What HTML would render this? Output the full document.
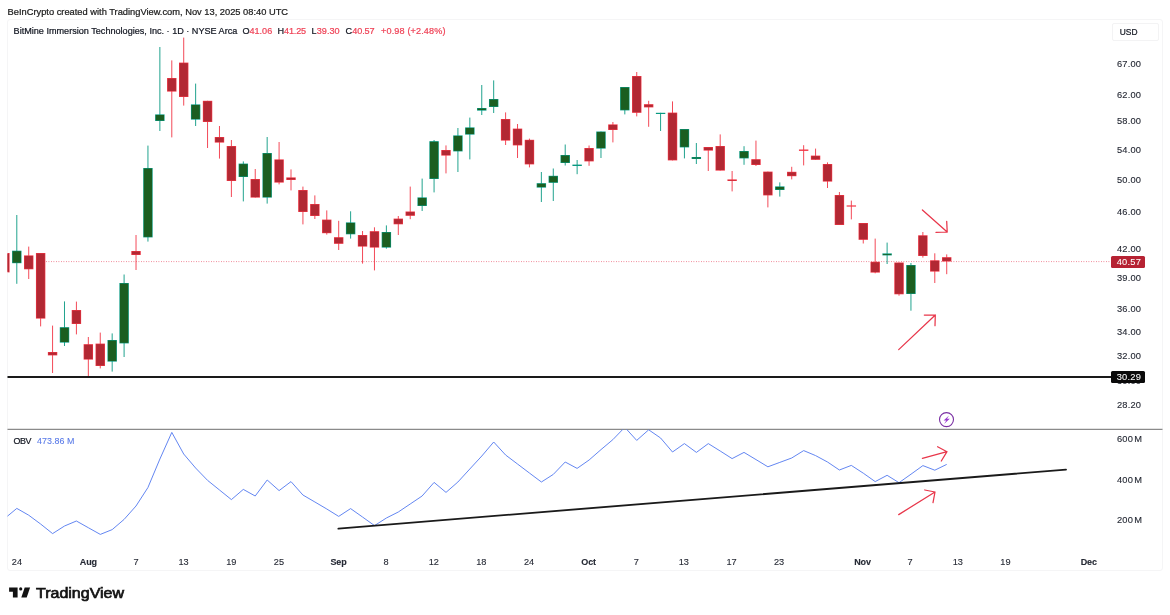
<!DOCTYPE html>
<html lang="en"><head><meta charset="utf-8"><title>BMNR chart</title>
<style>
html,body{margin:0;padding:0;background:#fff;}
body{width:1170px;height:615px;position:relative;overflow:hidden;font-family:"Liberation Sans",Arial,sans-serif;color:#131722;}
.t{position:absolute;white-space:nowrap;color:#131722;-webkit-text-stroke:0.22px currentColor;}
.t.ax{color:#262a35;-webkit-text-stroke:0.12px currentColor;}
.v{color:#ef4458;}
#frame{position:absolute;left:6.8px;top:19.4px;width:1156px;height:551.4px;border:1px solid #f5f5f6;border-radius:3px;box-sizing:border-box;}
#usdbox{position:absolute;left:1112.2px;top:23px;width:47.3px;height:17.6px;border:1px solid #f3f3f4;border-radius:2px;box-sizing:border-box;}
.tag{position:absolute;left:1110.7px;width:34px;height:11.5px;border-radius:1.5px;}
svg{position:absolute;left:0;top:0;}
</style></head>
<body>
<div class="t" style="left:7.60px;top:5.58px;font-size:9.3px;line-height:12px;color:#1a1a1a;">BeInCrypto created with TradingView.com, Nov 13, 2025 08:40 UTC</div>
<div id="frame"></div>
<svg width="1170" height="615" viewBox="0 0 1170 615">
<defs><clipPath id="cp"><rect x="7.5" y="20" width="1103" height="409"/></clipPath>
<clipPath id="cp2"><rect x="7.5" y="429.6" width="1103" height="120"/></clipPath></defs>
<line x1="46" y1="261.6" x2="1111" y2="261.6" stroke="#e84c62" stroke-width="0.8" stroke-dasharray="0.8 1.7"/>
<g clip-path="url(#cp)" shape-rendering="geometricPrecision">
<line x1="16.80" y1="215.0" x2="16.80" y2="283.8" stroke="#089981" stroke-width="0.9"/>
<line x1="28.72" y1="246.6" x2="28.72" y2="279.0" stroke="#f23645" stroke-width="0.9"/>
<line x1="40.64" y1="253.0" x2="40.64" y2="326.4" stroke="#f23645" stroke-width="0.9"/>
<line x1="52.57" y1="325.6" x2="52.57" y2="373.0" stroke="#f23645" stroke-width="0.9"/>
<line x1="64.49" y1="301.4" x2="64.49" y2="346.0" stroke="#089981" stroke-width="0.9"/>
<line x1="76.41" y1="301.6" x2="76.41" y2="334.4" stroke="#f23645" stroke-width="0.9"/>
<line x1="88.33" y1="337.0" x2="88.33" y2="376.0" stroke="#f23645" stroke-width="0.9"/>
<line x1="100.25" y1="332.6" x2="100.25" y2="368.4" stroke="#f23645" stroke-width="0.9"/>
<line x1="112.18" y1="333.4" x2="112.18" y2="371.6" stroke="#089981" stroke-width="0.9"/>
<line x1="124.10" y1="274.5" x2="124.10" y2="357.0" stroke="#089981" stroke-width="0.9"/>
<line x1="136.02" y1="235.0" x2="136.02" y2="270.0" stroke="#f23645" stroke-width="0.9"/>
<line x1="147.94" y1="145.6" x2="147.94" y2="241.6" stroke="#089981" stroke-width="0.9"/>
<line x1="159.86" y1="47.0" x2="159.86" y2="131.0" stroke="#089981" stroke-width="0.9"/>
<line x1="171.79" y1="60.4" x2="171.79" y2="137.4" stroke="#f23645" stroke-width="0.9"/>
<line x1="183.71" y1="37.6" x2="183.71" y2="105.6" stroke="#f23645" stroke-width="0.9"/>
<line x1="195.63" y1="83.6" x2="195.63" y2="126.0" stroke="#089981" stroke-width="0.9"/>
<line x1="207.55" y1="100.8" x2="207.55" y2="148.0" stroke="#f23645" stroke-width="0.9"/>
<line x1="219.47" y1="126.0" x2="219.47" y2="158.6" stroke="#f23645" stroke-width="0.9"/>
<line x1="231.40" y1="140.0" x2="231.40" y2="197.0" stroke="#f23645" stroke-width="0.9"/>
<line x1="243.32" y1="161.4" x2="243.32" y2="201.4" stroke="#089981" stroke-width="0.9"/>
<line x1="255.24" y1="169.0" x2="255.24" y2="197.6" stroke="#f23645" stroke-width="0.9"/>
<line x1="267.16" y1="137.0" x2="267.16" y2="203.6" stroke="#089981" stroke-width="0.9"/>
<line x1="279.08" y1="142.0" x2="279.08" y2="184.4" stroke="#f23645" stroke-width="0.9"/>
<line x1="291.01" y1="169.4" x2="291.01" y2="190.4" stroke="#f23645" stroke-width="0.9"/>
<line x1="302.93" y1="186.6" x2="302.93" y2="224.4" stroke="#f23645" stroke-width="0.9"/>
<line x1="314.85" y1="195.4" x2="314.85" y2="219.0" stroke="#f23645" stroke-width="0.9"/>
<line x1="326.77" y1="210.4" x2="326.77" y2="234.6" stroke="#f23645" stroke-width="0.9"/>
<line x1="338.69" y1="220.8" x2="338.69" y2="250.0" stroke="#f23645" stroke-width="0.9"/>
<line x1="350.62" y1="211.3" x2="350.62" y2="238.6" stroke="#089981" stroke-width="0.9"/>
<line x1="362.54" y1="231.0" x2="362.54" y2="263.6" stroke="#f23645" stroke-width="0.9"/>
<line x1="374.46" y1="227.3" x2="374.46" y2="270.4" stroke="#f23645" stroke-width="0.9"/>
<line x1="386.38" y1="225.4" x2="386.38" y2="248.7" stroke="#089981" stroke-width="0.9"/>
<line x1="398.30" y1="216.0" x2="398.30" y2="235.0" stroke="#f23645" stroke-width="0.9"/>
<line x1="410.23" y1="186.6" x2="410.23" y2="219.2" stroke="#f23645" stroke-width="0.9"/>
<line x1="422.15" y1="178.6" x2="422.15" y2="211.0" stroke="#089981" stroke-width="0.9"/>
<line x1="434.07" y1="140.0" x2="434.07" y2="192.4" stroke="#089981" stroke-width="0.9"/>
<line x1="445.99" y1="145.4" x2="445.99" y2="173.4" stroke="#f23645" stroke-width="0.9"/>
<line x1="457.91" y1="128.0" x2="457.91" y2="172.0" stroke="#089981" stroke-width="0.9"/>
<line x1="469.84" y1="117.6" x2="469.84" y2="159.4" stroke="#089981" stroke-width="0.9"/>
<line x1="481.76" y1="85.0" x2="481.76" y2="115.0" stroke="#089981" stroke-width="0.9"/>
<line x1="493.68" y1="80.4" x2="493.68" y2="113.0" stroke="#089981" stroke-width="0.9"/>
<line x1="505.60" y1="112.4" x2="505.60" y2="145.0" stroke="#f23645" stroke-width="0.9"/>
<line x1="517.52" y1="124.0" x2="517.52" y2="158.0" stroke="#f23645" stroke-width="0.9"/>
<line x1="529.45" y1="138.6" x2="529.45" y2="167.4" stroke="#f23645" stroke-width="0.9"/>
<line x1="541.37" y1="172.0" x2="541.37" y2="202.0" stroke="#089981" stroke-width="0.9"/>
<line x1="553.29" y1="168.5" x2="553.29" y2="201.0" stroke="#089981" stroke-width="0.9"/>
<line x1="565.21" y1="144.5" x2="565.21" y2="165.5" stroke="#089981" stroke-width="0.9"/>
<line x1="577.13" y1="160.0" x2="577.13" y2="174.2" stroke="#089981" stroke-width="0.9"/>
<line x1="589.06" y1="145.5" x2="589.06" y2="165.8" stroke="#f23645" stroke-width="0.9"/>
<line x1="600.98" y1="131.5" x2="600.98" y2="158.0" stroke="#089981" stroke-width="0.9"/>
<line x1="612.90" y1="122.0" x2="612.90" y2="142.4" stroke="#f23645" stroke-width="0.9"/>
<line x1="624.82" y1="87.0" x2="624.82" y2="114.4" stroke="#089981" stroke-width="0.9"/>
<line x1="636.74" y1="72.0" x2="636.74" y2="116.4" stroke="#f23645" stroke-width="0.9"/>
<line x1="648.67" y1="100.8" x2="648.67" y2="126.8" stroke="#f23645" stroke-width="0.9"/>
<line x1="660.59" y1="112.8" x2="660.59" y2="131.0" stroke="#089981" stroke-width="0.9"/>
<line x1="672.51" y1="101.4" x2="672.51" y2="160.4" stroke="#f23645" stroke-width="0.9"/>
<line x1="684.43" y1="129.0" x2="684.43" y2="158.4" stroke="#089981" stroke-width="0.9"/>
<line x1="696.35" y1="143.0" x2="696.35" y2="164.0" stroke="#089981" stroke-width="0.9"/>
<line x1="708.28" y1="147.0" x2="708.28" y2="171.0" stroke="#f23645" stroke-width="0.9"/>
<line x1="720.20" y1="134.4" x2="720.20" y2="170.6" stroke="#f23645" stroke-width="0.9"/>
<line x1="732.12" y1="171.0" x2="732.12" y2="191.4" stroke="#f23645" stroke-width="0.9"/>
<line x1="744.04" y1="146.2" x2="744.04" y2="164.8" stroke="#089981" stroke-width="0.9"/>
<line x1="755.96" y1="140.6" x2="755.96" y2="166.0" stroke="#f23645" stroke-width="0.9"/>
<line x1="767.89" y1="171.6" x2="767.89" y2="207.4" stroke="#f23645" stroke-width="0.9"/>
<line x1="779.81" y1="182.4" x2="779.81" y2="196.6" stroke="#089981" stroke-width="0.9"/>
<line x1="791.73" y1="166.8" x2="791.73" y2="179.4" stroke="#f23645" stroke-width="0.9"/>
<line x1="803.65" y1="145.2" x2="803.65" y2="165.4" stroke="#f23645" stroke-width="0.9"/>
<line x1="815.57" y1="148.6" x2="815.57" y2="159.8" stroke="#f23645" stroke-width="0.9"/>
<line x1="827.50" y1="162.4" x2="827.50" y2="188.0" stroke="#f23645" stroke-width="0.9"/>
<line x1="839.42" y1="192.0" x2="839.42" y2="225.0" stroke="#f23645" stroke-width="0.9"/>
<line x1="851.34" y1="200.6" x2="851.34" y2="219.4" stroke="#f23645" stroke-width="0.9"/>
<line x1="863.26" y1="223.0" x2="863.26" y2="243.5" stroke="#f23645" stroke-width="0.9"/>
<line x1="875.18" y1="238.6" x2="875.18" y2="273.3" stroke="#f23645" stroke-width="0.9"/>
<line x1="887.11" y1="242.6" x2="887.11" y2="264.0" stroke="#089981" stroke-width="0.9"/>
<line x1="899.03" y1="262.5" x2="899.03" y2="295.7" stroke="#f23645" stroke-width="0.9"/>
<line x1="910.95" y1="263.0" x2="910.95" y2="310.7" stroke="#089981" stroke-width="0.9"/>
<line x1="922.87" y1="232.0" x2="922.87" y2="257.6" stroke="#f23645" stroke-width="0.9"/>
<line x1="934.79" y1="253.3" x2="934.79" y2="283.0" stroke="#f23645" stroke-width="0.9"/>
<line x1="946.72" y1="254.4" x2="946.72" y2="274.2" stroke="#f23645" stroke-width="0.9"/>
<rect x="0.18" y="253.0" width="9.4" height="19.4" fill="#f23645"/>
<rect x="0.78" y="253.6" width="8.20" height="18.2" fill="#b22833"/>
<rect x="12.10" y="250.7" width="9.4" height="12.5" fill="#089981"/>
<rect x="12.70" y="251.3" width="8.20" height="11.3" fill="#1b5e20"/>
<rect x="24.02" y="255.4" width="9.4" height="13.9" fill="#f23645"/>
<rect x="24.62" y="256.0" width="8.20" height="12.7" fill="#b22833"/>
<rect x="35.94" y="253.0" width="9.4" height="65.6" fill="#f23645"/>
<rect x="36.54" y="253.6" width="8.20" height="64.4" fill="#b22833"/>
<rect x="47.87" y="352.0" width="9.4" height="3.4" fill="#f23645"/>
<rect x="48.47" y="352.6" width="8.20" height="2.2" fill="#b22833"/>
<rect x="59.79" y="327.2" width="9.4" height="15.4" fill="#089981"/>
<rect x="60.39" y="327.8" width="8.20" height="14.2" fill="#1b5e20"/>
<rect x="71.71" y="310.0" width="9.4" height="14.0" fill="#f23645"/>
<rect x="72.31" y="310.6" width="8.20" height="12.8" fill="#b22833"/>
<rect x="83.63" y="344.2" width="9.4" height="15.4" fill="#f23645"/>
<rect x="84.23" y="344.8" width="8.20" height="14.2" fill="#b22833"/>
<rect x="95.55" y="343.6" width="9.4" height="22.4" fill="#f23645"/>
<rect x="96.15" y="344.2" width="8.20" height="21.2" fill="#b22833"/>
<rect x="107.48" y="340.0" width="9.4" height="21.6" fill="#089981"/>
<rect x="108.08" y="340.6" width="8.20" height="20.4" fill="#1b5e20"/>
<rect x="119.40" y="283.0" width="9.4" height="60.4" fill="#089981"/>
<rect x="120.00" y="283.6" width="8.20" height="59.2" fill="#1b5e20"/>
<rect x="131.32" y="251.0" width="9.4" height="4.0" fill="#f23645"/>
<rect x="131.92" y="251.6" width="8.20" height="2.8" fill="#b22833"/>
<rect x="143.24" y="168.0" width="9.4" height="69.4" fill="#089981"/>
<rect x="143.84" y="168.6" width="8.20" height="68.2" fill="#1b5e20"/>
<rect x="155.16" y="114.4" width="9.4" height="6.6" fill="#089981"/>
<rect x="155.76" y="115.0" width="8.20" height="5.4" fill="#1b5e20"/>
<rect x="167.09" y="78.0" width="9.4" height="13.6" fill="#f23645"/>
<rect x="167.69" y="78.6" width="8.20" height="12.4" fill="#b22833"/>
<rect x="179.01" y="62.6" width="9.4" height="34.4" fill="#f23645"/>
<rect x="179.61" y="63.2" width="8.20" height="33.2" fill="#b22833"/>
<rect x="190.93" y="104.4" width="9.4" height="15.2" fill="#089981"/>
<rect x="191.53" y="105.0" width="8.20" height="14.0" fill="#1b5e20"/>
<rect x="202.85" y="100.8" width="9.4" height="21.2" fill="#f23645"/>
<rect x="203.45" y="101.4" width="8.20" height="20.0" fill="#b22833"/>
<rect x="214.77" y="137.0" width="9.4" height="5.6" fill="#f23645"/>
<rect x="215.37" y="137.6" width="8.20" height="4.4" fill="#b22833"/>
<rect x="226.70" y="146.0" width="9.4" height="35.0" fill="#f23645"/>
<rect x="227.30" y="146.6" width="8.20" height="33.8" fill="#b22833"/>
<rect x="238.62" y="163.6" width="9.4" height="13.4" fill="#089981"/>
<rect x="239.22" y="164.2" width="8.20" height="12.2" fill="#1b5e20"/>
<rect x="250.54" y="179.0" width="9.4" height="18.6" fill="#f23645"/>
<rect x="251.14" y="179.6" width="8.20" height="17.4" fill="#b22833"/>
<rect x="262.46" y="153.0" width="9.4" height="44.6" fill="#089981"/>
<rect x="263.06" y="153.6" width="8.20" height="43.4" fill="#1b5e20"/>
<rect x="274.38" y="159.4" width="9.4" height="23.2" fill="#f23645"/>
<rect x="274.98" y="160.0" width="8.20" height="22.0" fill="#b22833"/>
<rect x="286.31" y="177.4" width="9.4" height="2.6" fill="#f23645"/>
<rect x="286.91" y="178.0" width="8.20" height="1.4" fill="#b22833"/>
<rect x="298.23" y="190.0" width="9.4" height="22.0" fill="#f23645"/>
<rect x="298.83" y="190.6" width="8.20" height="20.8" fill="#b22833"/>
<rect x="310.15" y="204.0" width="9.4" height="12.0" fill="#f23645"/>
<rect x="310.75" y="204.6" width="8.20" height="10.8" fill="#b22833"/>
<rect x="322.07" y="219.6" width="9.4" height="13.6" fill="#f23645"/>
<rect x="322.67" y="220.2" width="8.20" height="12.4" fill="#b22833"/>
<rect x="333.99" y="237.2" width="9.4" height="6.6" fill="#f23645"/>
<rect x="334.59" y="237.8" width="8.20" height="5.4" fill="#b22833"/>
<rect x="345.92" y="222.4" width="9.4" height="11.9" fill="#089981"/>
<rect x="346.52" y="223.0" width="8.20" height="10.7" fill="#1b5e20"/>
<rect x="357.84" y="235.0" width="9.4" height="11.6" fill="#f23645"/>
<rect x="358.44" y="235.6" width="8.20" height="10.4" fill="#b22833"/>
<rect x="369.76" y="231.2" width="9.4" height="16.4" fill="#f23645"/>
<rect x="370.36" y="231.8" width="8.20" height="15.2" fill="#b22833"/>
<rect x="381.68" y="232.0" width="9.4" height="15.6" fill="#089981"/>
<rect x="382.28" y="232.6" width="8.20" height="14.4" fill="#1b5e20"/>
<rect x="393.60" y="218.6" width="9.4" height="5.7" fill="#f23645"/>
<rect x="394.20" y="219.2" width="8.20" height="4.5" fill="#b22833"/>
<rect x="405.53" y="211.5" width="9.4" height="4.3" fill="#f23645"/>
<rect x="406.13" y="212.1" width="8.20" height="3.1" fill="#b22833"/>
<rect x="417.45" y="197.4" width="9.4" height="8.6" fill="#089981"/>
<rect x="418.05" y="198.0" width="8.20" height="7.4" fill="#1b5e20"/>
<rect x="429.37" y="141.2" width="9.4" height="37.8" fill="#089981"/>
<rect x="429.97" y="141.8" width="8.20" height="36.6" fill="#1b5e20"/>
<rect x="441.29" y="150.0" width="9.4" height="5.6" fill="#f23645"/>
<rect x="441.89" y="150.6" width="8.20" height="4.4" fill="#b22833"/>
<rect x="453.21" y="135.4" width="9.4" height="16.0" fill="#089981"/>
<rect x="453.81" y="136.0" width="8.20" height="14.8" fill="#1b5e20"/>
<rect x="465.14" y="127.4" width="9.4" height="7.2" fill="#089981"/>
<rect x="465.74" y="128.0" width="8.20" height="6.0" fill="#1b5e20"/>
<rect x="477.06" y="108.0" width="9.4" height="2.6" fill="#089981"/>
<rect x="477.66" y="108.6" width="8.20" height="1.4" fill="#1b5e20"/>
<rect x="488.98" y="99.0" width="9.4" height="8.0" fill="#089981"/>
<rect x="489.58" y="99.6" width="8.20" height="6.8" fill="#1b5e20"/>
<rect x="500.90" y="119.0" width="9.4" height="21.6" fill="#f23645"/>
<rect x="501.50" y="119.6" width="8.20" height="20.4" fill="#b22833"/>
<rect x="512.82" y="128.6" width="9.4" height="16.8" fill="#f23645"/>
<rect x="513.42" y="129.2" width="8.20" height="15.6" fill="#b22833"/>
<rect x="524.75" y="139.8" width="9.4" height="24.6" fill="#f23645"/>
<rect x="525.35" y="140.4" width="8.20" height="23.4" fill="#b22833"/>
<rect x="536.67" y="183.2" width="9.4" height="4.4" fill="#089981"/>
<rect x="537.27" y="183.8" width="8.20" height="3.2" fill="#1b5e20"/>
<rect x="548.59" y="175.8" width="9.4" height="7.0" fill="#089981"/>
<rect x="549.19" y="176.4" width="8.20" height="5.8" fill="#1b5e20"/>
<rect x="560.51" y="155.0" width="9.4" height="8.0" fill="#089981"/>
<rect x="561.11" y="155.6" width="8.20" height="6.8" fill="#1b5e20"/>
<rect x="572.43" y="164.6" width="9.4" height="1.4" fill="#089981"/>
<rect x="584.36" y="148.0" width="9.4" height="13.4" fill="#f23645"/>
<rect x="584.96" y="148.6" width="8.20" height="12.2" fill="#b22833"/>
<rect x="596.28" y="131.5" width="9.4" height="17.1" fill="#089981"/>
<rect x="596.88" y="132.1" width="8.20" height="15.9" fill="#1b5e20"/>
<rect x="608.20" y="124.4" width="9.4" height="5.6" fill="#f23645"/>
<rect x="608.80" y="125.0" width="8.20" height="4.4" fill="#b22833"/>
<rect x="620.12" y="87.0" width="9.4" height="23.4" fill="#089981"/>
<rect x="620.72" y="87.6" width="8.20" height="22.2" fill="#1b5e20"/>
<rect x="632.04" y="76.0" width="9.4" height="36.8" fill="#f23645"/>
<rect x="632.64" y="76.6" width="8.20" height="35.6" fill="#b22833"/>
<rect x="643.97" y="104.2" width="9.4" height="3.2" fill="#f23645"/>
<rect x="644.57" y="104.8" width="8.20" height="2.0" fill="#b22833"/>
<rect x="655.89" y="112.8" width="9.4" height="1.2" fill="#089981"/>
<rect x="667.81" y="112.6" width="9.4" height="47.8" fill="#f23645"/>
<rect x="668.41" y="113.2" width="8.20" height="46.6" fill="#b22833"/>
<rect x="679.73" y="129.0" width="9.4" height="18.4" fill="#089981"/>
<rect x="680.33" y="129.6" width="8.20" height="17.2" fill="#1b5e20"/>
<rect x="691.65" y="157.0" width="9.4" height="2.0" fill="#089981"/>
<rect x="692.25" y="157.6" width="8.20" height="0.8" fill="#1b5e20"/>
<rect x="703.58" y="147.0" width="9.4" height="3.6" fill="#f23645"/>
<rect x="704.18" y="147.6" width="8.20" height="2.4" fill="#b22833"/>
<rect x="715.50" y="146.0" width="9.4" height="24.6" fill="#f23645"/>
<rect x="716.10" y="146.6" width="8.20" height="23.4" fill="#b22833"/>
<rect x="727.42" y="179.4" width="9.4" height="1.6" fill="#f23645"/>
<rect x="728.02" y="180.0" width="8.20" height="0.4" fill="#b22833"/>
<rect x="739.34" y="151.0" width="9.4" height="7.4" fill="#089981"/>
<rect x="739.94" y="151.6" width="8.20" height="6.2" fill="#1b5e20"/>
<rect x="751.26" y="159.2" width="9.4" height="5.8" fill="#f23645"/>
<rect x="751.86" y="159.8" width="8.20" height="4.6" fill="#b22833"/>
<rect x="763.19" y="171.6" width="9.4" height="23.8" fill="#f23645"/>
<rect x="763.79" y="172.2" width="8.20" height="22.6" fill="#b22833"/>
<rect x="775.11" y="186.4" width="9.4" height="3.6" fill="#089981"/>
<rect x="775.71" y="187.0" width="8.20" height="2.4" fill="#1b5e20"/>
<rect x="787.03" y="171.8" width="9.4" height="4.4" fill="#f23645"/>
<rect x="787.63" y="172.4" width="8.20" height="3.2" fill="#b22833"/>
<rect x="798.95" y="149.5" width="9.4" height="1.4" fill="#f23645"/>
<rect x="810.87" y="155.6" width="9.4" height="4.2" fill="#f23645"/>
<rect x="811.47" y="156.2" width="8.20" height="3.0" fill="#b22833"/>
<rect x="822.80" y="164.0" width="9.4" height="17.6" fill="#f23645"/>
<rect x="823.40" y="164.6" width="8.20" height="16.4" fill="#b22833"/>
<rect x="834.72" y="195.0" width="9.4" height="30.0" fill="#f23645"/>
<rect x="835.32" y="195.6" width="8.20" height="28.8" fill="#b22833"/>
<rect x="846.64" y="205.4" width="9.4" height="1.2" fill="#f23645"/>
<rect x="858.56" y="223.0" width="9.4" height="16.8" fill="#f23645"/>
<rect x="859.16" y="223.6" width="8.20" height="15.6" fill="#b22833"/>
<rect x="870.48" y="261.8" width="9.4" height="10.8" fill="#f23645"/>
<rect x="871.08" y="262.4" width="8.20" height="9.6" fill="#b22833"/>
<rect x="882.41" y="253.4" width="9.4" height="2.0" fill="#089981"/>
<rect x="883.01" y="254.0" width="8.20" height="0.8" fill="#1b5e20"/>
<rect x="894.33" y="262.5" width="9.4" height="31.8" fill="#f23645"/>
<rect x="894.93" y="263.1" width="8.20" height="30.6" fill="#b22833"/>
<rect x="906.25" y="265.0" width="9.4" height="29.0" fill="#089981"/>
<rect x="906.85" y="265.6" width="8.20" height="27.8" fill="#1b5e20"/>
<rect x="918.17" y="235.3" width="9.4" height="20.7" fill="#f23645"/>
<rect x="918.77" y="235.9" width="8.20" height="19.5" fill="#b22833"/>
<rect x="930.09" y="260.3" width="9.4" height="11.3" fill="#f23645"/>
<rect x="930.69" y="260.9" width="8.20" height="10.1" fill="#b22833"/>
<rect x="942.02" y="257.2" width="9.4" height="4.3" fill="#f23645"/>
<rect x="942.62" y="257.8" width="8.20" height="3.1" fill="#b22833"/>
</g>

<line x1="7.5" y1="377" x2="1111" y2="377" stroke="#1a1a1a" stroke-width="1.8"/>
<line x1="7.5" y1="429.3" x2="1162.5" y2="429.3" stroke="#8a8a8a" stroke-width="1.3"/>
<g clip-path="url(#cp2)"><polyline points="4.9,518.3 16.8,508.4 28.7,515.2 40.6,524.0 52.6,533.6 64.5,526.0 76.4,521.0 88.3,527.7 100.3,534.4 112.2,529.6 124.1,519.4 136.0,506.0 147.9,487.6 159.9,459.0 171.8,432.4 183.7,454.0 195.6,468.0 207.6,480.4 219.5,490.0 231.4,499.6 243.3,489.4 255.2,496.0 267.2,480.0 279.1,490.6 291.0,481.6 302.9,495.0 314.9,502.0 326.8,509.0 338.7,516.4 350.6,508.6 362.5,517.0 374.5,525.6 386.4,518.0 398.3,512.0 410.2,504.0 422.1,496.0 434.1,482.4 446.0,492.4 457.9,482.0 469.8,469.0 481.8,456.0 493.7,442.0 505.6,455.0 517.5,464.0 529.4,473.0 541.4,482.0 553.3,474.4 565.2,462.0 577.1,468.4 589.1,460.0 601.0,449.6 612.9,439.6 624.8,427.3 636.7,440.4 648.7,429.8 660.6,438.0 672.5,452.0 684.4,443.6 696.4,452.4 708.3,443.6 720.2,451.0 732.1,458.6 744.0,452.4 756.0,459.6 767.9,466.8 779.8,462.4 791.7,458.0 803.7,450.6 815.6,455.6 827.5,462.0 839.4,470.0 851.3,465.4 863.3,473.2 875.2,481.6 887.1,475.3 899.0,482.7 911.0,474.2 922.9,465.6 934.8,470.2 946.7,464.4" fill="none" stroke="#5b7ff0" stroke-width="0.95" stroke-linejoin="round"/></g>
<line x1="338.4" y1="528.6" x2="1066" y2="469.6" stroke="#1a1a1a" stroke-width="1.85" stroke-linecap="round"/>
<g fill="none" stroke="#e8364a" stroke-width="1.25" stroke-linecap="round" stroke-linejoin="round">
<path d="M922.4 210 L947.2 232 M946.7 221.3 L947.2 232 L936 232.4"/>
<path d="M898.7 349.6 L935.3 315 M924.3 315 L935.3 315 L935 325.7"/>
<path d="M922.4 458.3 L947 451.7 M937.6 446.7 L947 451.7 L941.3 461"/>
<path d="M898.7 514.6 L935 492 M924.7 490 L935 492 L933 502.6"/>
</g>
<circle cx="946.5" cy="419.6" r="7" fill="#fff" stroke="#7a2fa3" stroke-width="1.1"/>
<path d="M949 415.4 L943.6 420.4 L946.3 420.4 L944 424 L949.8 418.8 L947 418.8 Z" fill="#9a3bd0"/>
<g fill="#131313">
<path d="M9.1 587.4 H17.6 V597.4 H12.9 V591.7 H9.1 Z"/>
<circle cx="20.7" cy="588.95" r="1.6"/>
<path d="M24.7 587.4 H30.1 L26.7 597.4 H21.3 Z"/>
</g>
</svg>
<div class="t" style="left:13.60px;top:25.35px;font-size:9.1px;line-height:12px;letter-spacing:0px;">BitMine Immersion Technologies, Inc. · 1D · NYSE Arca</div><div class="t" style="left:242.40px;top:25.35px;font-size:9.1px;line-height:12px;">O<span class="v">41.06</span></div><div class="t" style="left:277.60px;top:25.35px;font-size:9.1px;line-height:12px;letter-spacing:-0.15px;">H<span class="v">41.25</span></div><div class="t" style="left:311.60px;top:25.35px;font-size:9.1px;line-height:12px;letter-spacing:0.05px;">L<span class="v">39.30</span></div><div class="t" style="left:345.60px;top:25.35px;font-size:9.1px;line-height:12px;letter-spacing:-0.05px;">C<span class="v">40.57</span></div><div class="t" style="left:381.00px;top:25.35px;font-size:9.1px;line-height:12px;letter-spacing:0.14px;"><span class="v">+0.98 (+2.48%)</span></div>
<div class="t" style="left:13.50px;top:435.02px;font-size:8.9px;line-height:12px;letter-spacing:-0.4px;">OBV</div><div class="t" style="left:36.90px;top:435.02px;font-size:8.9px;line-height:12px;color:#5a7be8;letter-spacing:0.08px;-webkit-text-stroke:0.1px #5a7be8;">473.86<span style="margin-left:2.6px;letter-spacing:-0.5px">M</span></div>
<div id="usdbox"></div>
<div class="t" style="left:1119.80px;top:26.09px;font-size:8.4px;line-height:12px;">USD</div>
<div class="t ax" style="left:1116.90px;top:58.23px;font-size:9.3px;line-height:12px;letter-spacing:0.2px;">67.00</div>
<div class="t ax" style="left:1116.90px;top:88.73px;font-size:9.3px;line-height:12px;letter-spacing:0.2px;">62.00</div>
<div class="t ax" style="left:1116.90px;top:115.23px;font-size:9.3px;line-height:12px;letter-spacing:0.2px;">58.00</div>
<div class="t ax" style="left:1116.90px;top:143.53px;font-size:9.3px;line-height:12px;letter-spacing:0.2px;">54.00</div>
<div class="t ax" style="left:1116.90px;top:173.83px;font-size:9.3px;line-height:12px;letter-spacing:0.2px;">50.00</div>
<div class="t ax" style="left:1116.90px;top:206.43px;font-size:9.3px;line-height:12px;letter-spacing:0.2px;">46.00</div>
<div class="t ax" style="left:1116.90px;top:242.53px;font-size:9.3px;line-height:12px;letter-spacing:0.2px;">42.00</div>
<div class="t ax" style="left:1116.90px;top:271.53px;font-size:9.3px;line-height:12px;letter-spacing:0.2px;">39.00</div>
<div class="t ax" style="left:1116.90px;top:303.03px;font-size:9.3px;line-height:12px;letter-spacing:0.2px;">36.00</div>
<div class="t ax" style="left:1116.90px;top:325.83px;font-size:9.3px;line-height:12px;letter-spacing:0.2px;">34.00</div>
<div class="t ax" style="left:1116.90px;top:349.83px;font-size:9.3px;line-height:12px;letter-spacing:0.2px;">32.00</div>
<div class="t ax" style="left:1116.90px;top:375.23px;font-size:9.3px;line-height:12px;letter-spacing:0.2px;">30.00</div>
<div class="t ax" style="left:1116.90px;top:399.23px;font-size:9.3px;line-height:12px;letter-spacing:0.2px;">28.20</div>
<div class="t ax" style="left:1116.90px;top:432.83px;font-size:9.3px;line-height:12px;letter-spacing:0.2px;">600<span style="margin-left:1.3px">M</span></div>
<div class="t ax" style="left:1116.90px;top:473.53px;font-size:9.3px;line-height:12px;letter-spacing:0.2px;">400<span style="margin-left:1.3px">M</span></div>
<div class="t ax" style="left:1116.90px;top:513.83px;font-size:9.3px;line-height:12px;letter-spacing:0.2px;">200<span style="margin-left:1.3px">M</span></div>
<div class="tag" style="top:255.5px;height:12.1px;background:#b62233;"></div><div class="t" style="left:1108.90px;width:40px;text-align:center;top:255.68px;font-size:9.3px;line-height:12px;color:#fff;letter-spacing:0.2px;-webkit-text-stroke:0.05px #fff;">40.57</div><div class="tag" style="top:371.1px;height:11.6px;background:#0a0a0a;"></div><div class="t" style="left:1108.90px;width:40px;text-align:center;top:370.88px;font-size:9.3px;line-height:12px;color:#fff;letter-spacing:0.2px;-webkit-text-stroke:0.05px #fff;">30.29</div>
<div class="t ax" style="left:-3.10px;width:40px;text-align:center;top:555.51px;font-size:9.2px;line-height:12px;">24</div>
<div class="t ax" style="left:68.36px;width:40px;text-align:center;top:555.58px;font-size:9.0px;line-height:12px;font-weight:bold;letter-spacing:-0.15px;">Aug</div>
<div class="t ax" style="left:116.00px;width:40px;text-align:center;top:555.51px;font-size:9.2px;line-height:12px;">7</div>
<div class="t ax" style="left:163.64px;width:40px;text-align:center;top:555.51px;font-size:9.2px;line-height:12px;">13</div>
<div class="t ax" style="left:211.28px;width:40px;text-align:center;top:555.51px;font-size:9.2px;line-height:12px;">19</div>
<div class="t ax" style="left:258.92px;width:40px;text-align:center;top:555.51px;font-size:9.2px;line-height:12px;">25</div>
<div class="t ax" style="left:318.47px;width:40px;text-align:center;top:555.58px;font-size:9.0px;line-height:12px;font-weight:bold;letter-spacing:-0.15px;">Sep</div>
<div class="t ax" style="left:366.11px;width:40px;text-align:center;top:555.51px;font-size:9.2px;line-height:12px;">8</div>
<div class="t ax" style="left:413.75px;width:40px;text-align:center;top:555.51px;font-size:9.2px;line-height:12px;">12</div>
<div class="t ax" style="left:461.39px;width:40px;text-align:center;top:555.51px;font-size:9.2px;line-height:12px;">18</div>
<div class="t ax" style="left:509.03px;width:40px;text-align:center;top:555.51px;font-size:9.2px;line-height:12px;">24</div>
<div class="t ax" style="left:568.58px;width:40px;text-align:center;top:555.58px;font-size:9.0px;line-height:12px;font-weight:bold;letter-spacing:-0.15px;">Oct</div>
<div class="t ax" style="left:616.22px;width:40px;text-align:center;top:555.51px;font-size:9.2px;line-height:12px;">7</div>
<div class="t ax" style="left:663.86px;width:40px;text-align:center;top:555.51px;font-size:9.2px;line-height:12px;">13</div>
<div class="t ax" style="left:711.50px;width:40px;text-align:center;top:555.51px;font-size:9.2px;line-height:12px;">17</div>
<div class="t ax" style="left:759.14px;width:40px;text-align:center;top:555.51px;font-size:9.2px;line-height:12px;">23</div>
<div class="t ax" style="left:842.51px;width:40px;text-align:center;top:555.58px;font-size:9.0px;line-height:12px;font-weight:bold;letter-spacing:-0.15px;">Nov</div>
<div class="t ax" style="left:890.15px;width:40px;text-align:center;top:555.51px;font-size:9.2px;line-height:12px;">7</div>
<div class="t ax" style="left:937.79px;width:40px;text-align:center;top:555.51px;font-size:9.2px;line-height:12px;">13</div>
<div class="t ax" style="left:985.43px;width:40px;text-align:center;top:555.51px;font-size:9.2px;line-height:12px;">19</div>
<div class="t ax" style="left:1068.80px;width:40px;text-align:center;top:555.58px;font-size:9.0px;line-height:12px;font-weight:bold;letter-spacing:-0.15px;">Dec</div>
<div class="t" style="left:36.00px;top:583.55px;font-size:14px;line-height:18px;color:#131313;letter-spacing:0;-webkit-text-stroke:0.68px #131313;transform:scaleX(1.143);transform-origin:0 0;">TradingView</div>
</body></html>
